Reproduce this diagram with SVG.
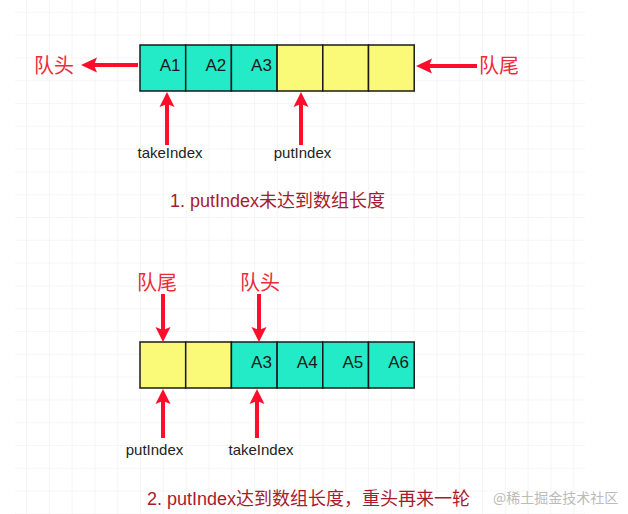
<svg xmlns="http://www.w3.org/2000/svg" width="628" height="514" viewBox="0 0 628 514">
  <defs>
    <pattern id="grid" patternUnits="userSpaceOnUse" x="3.2" y="11.8" width="22.8" height="22.8">
      <path d="M0,0 H22.8 M0,0 V22.8" fill="none" stroke="#eeeeee" stroke-width="1.2"/>
    </pattern>
    <style>
      .cyan { fill: #23ebc8; stroke: #1a1a1a; stroke-width: 1.5; }
      .yellow { fill: #fafa78; stroke: #1a1a1a; stroke-width: 1.5; }
      .val { font-family: "Liberation Sans", Arial, sans-serif; font-size: 17px; fill: #1a1a1a; text-anchor: end; }
      .idx { font-family: "Liberation Sans", Arial, sans-serif; font-size: 15px; fill: #222222; text-anchor: middle; }
      .cn { font-family: "Noto Sans CJK SC", sans-serif; font-size: 20px; fill: #ee2a3a; }
      .cap { font-family: "Liberation Sans", "Noto Sans CJK SC", sans-serif; font-size: 18px; fill: #a81a2c; }
      .wm { font-family: "Noto Sans CJK SC", sans-serif; font-size: 14px; fill: #bbbbbb; }
      .shaft { stroke: #ff0d2b; stroke-width: 4; fill: none; }
      .head { fill: #ff0d2b; }
    </style>
  </defs>
  <rect width="628" height="514" fill="#ffffff"/>
  <rect x="15" y="0" width="570" height="514" fill="url(#grid)"/>

  <g id="array1">
    <rect class="cyan" x="140" y="45" width="45.7" height="46"/>
    <rect class="cyan" x="185.7" y="45" width="45.7" height="46"/>
    <rect class="cyan" x="231.4" y="45" width="45.7" height="46"/>
    <rect class="yellow" x="277.1" y="45" width="45.7" height="46"/>
    <rect class="yellow" x="322.8" y="45" width="45.7" height="46"/>
    <rect class="yellow" x="368.5" y="45" width="45.7" height="46"/>
    <text class="val" x="180.5" y="70.5">A1</text>
    <text class="val" x="226.2" y="70.5">A2</text>
    <text class="val" x="271.9" y="70.5">A3</text>
  </g>

  <g id="head1"><text class="cn" x="34" y="73">队头</text></g>
  <g id="tail1"><text class="cn" x="479" y="73">队尾</text></g>
  <g id="takeIndex1"><text class="idx" x="170" y="158">takeIndex</text></g>
  <g id="putIndex1"><text class="idx" x="302.5" y="158">putIndex</text></g>
  <g id="caption1"><text class="cap" x="170" y="207">1. putIndex未达到数组长度</text></g>

  <g id="array2">
    <rect class="yellow" x="140" y="342" width="45.7" height="46"/>
    <rect class="yellow" x="185.7" y="342" width="45.7" height="46"/>
    <rect class="cyan" x="231.4" y="342" width="45.7" height="46"/>
    <rect class="cyan" x="277.1" y="342" width="45.7" height="46"/>
    <rect class="cyan" x="322.8" y="342" width="45.7" height="46"/>
    <rect class="cyan" x="368.5" y="342" width="45.7" height="46"/>
    <text class="val" x="271.9" y="367.5">A3</text>
    <text class="val" x="317.6" y="367.5">A4</text>
    <text class="val" x="363.3" y="367.5">A5</text>
    <text class="val" x="409" y="367.5">A6</text>
  </g>

  <g id="tail2"><text class="cn" x="137" y="290">队尾</text></g>
  <g id="head2"><text class="cn" x="240" y="290">队头</text></g>
  <g id="putIndex2"><text class="idx" x="154.5" y="455">putIndex</text></g>
  <g id="takeIndex2"><text class="idx" x="261" y="455">takeIndex</text></g>
  <g id="caption2"><text class="cap" x="147" y="505">2. putIndex达到数组长度，重头再来一轮</text></g>
  <g id="watermark"><text class="wm" x="493" y="503">@稀土掘金技术社区</text></g>

  <g id="connectors">
    <!-- section 1: left arrow to 队头 -->
    <line class="shaft" x1="138" y1="65" x2="93" y2="65"/>
    <polygon class="head" points="81,65 97,57.5 94,65 97,72.5"/>
    <!-- right arrow from 队尾 -->
    <line class="shaft" x1="477" y1="66" x2="428" y2="66"/>
    <polygon class="head" points="416,66 432,58.5 429,66 432,73.5"/>
    <!-- takeIndex up -->
    <line class="shaft" x1="167" y1="145" x2="167" y2="103"/>
    <polygon class="head" points="167,92 174.5,107 167,104 159.5,107"/>
    <!-- putIndex up -->
    <line class="shaft" x1="301" y1="145" x2="301" y2="103"/>
    <polygon class="head" points="301,92 308.5,107 301,104 293.5,107"/>

    <!-- section 2: down arrows -->
    <line class="shaft" x1="163" y1="294" x2="163" y2="331"/>
    <polygon class="head" points="163,342 155.5,327 163,330 170.5,327"/>
    <line class="shaft" x1="259" y1="294" x2="259" y2="331"/>
    <polygon class="head" points="259,342 251.5,327 259,330 266.5,327"/>
    <!-- up arrows -->
    <line class="shaft" x1="163" y1="438" x2="163" y2="400"/>
    <polygon class="head" points="163,389 170.5,404 163,401 155.5,404"/>
    <line class="shaft" x1="257" y1="438" x2="257" y2="400"/>
    <polygon class="head" points="257,389 264.5,404 257,401 249.5,404"/>
  </g>
</svg>
